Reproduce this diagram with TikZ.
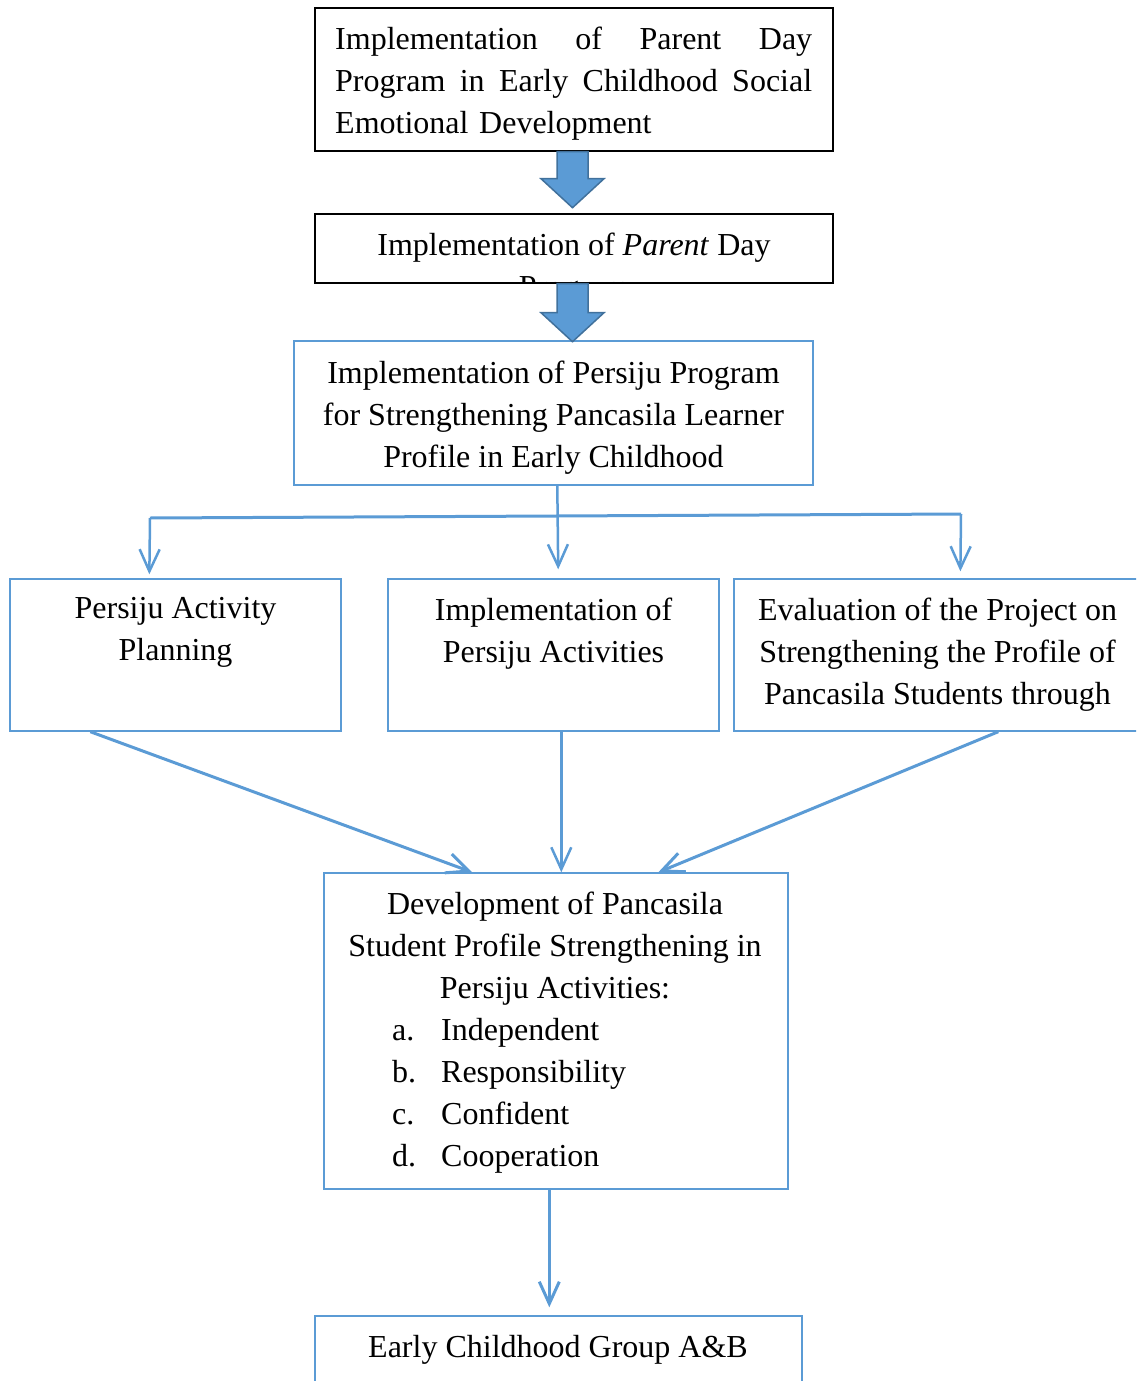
\documentclass[tikz,border=0pt]{standalone}
\usepackage{fontspec}
\setmainfont{Liberation Serif}
\usetikzlibrary{arrows.meta,calc}
\definecolor{bl}{HTML}{5B9BD5}
\definecolor{bldark}{HTML}{41719C}
\begin{document}
\begin{tikzpicture}[x=1pt,y=-1pt,
  font=\fontsize{32}{42}\selectfont,
  blackbox/.style={draw=black, line width=1.4pt, rectangle, inner sep=0pt},
  bluebox/.style={draw=bl, line width=1.4pt, rectangle, inner sep=0pt},
  txt/.style={inner sep=0pt, align=center},
  conn/.style={draw=bl, line width=3pt, -{Straight Barb[length=22pt,width=20pt]}},
  blockarrow/.style={fill=bl, draw=bldark, line width=1.5pt, line join=miter}
]
\useasboundingbox (0,0) rectangle (1136,1381);
\clip (0,0) rectangle (1136,1381);

% boxes
\node[blackbox, minimum width=518pt, minimum height=143pt] (b1) at (574,79.5) {};
\node[bluebox, minimum width=519pt, minimum height=144pt] (b3) at (553.5,413) {};
\node[bluebox, minimum width=331pt, minimum height=152pt] (b4) at (175.5,655) {};
\node[bluebox, minimum width=331pt, minimum height=152pt] (b5) at (553.5,655) {};
\node[bluebox, minimum width=416pt, minimum height=152pt] (b6) at (942,655) {};
\node[bluebox, minimum width=464pt, minimum height=316pt] (b7) at (556,1031) {};
\node[bluebox, minimum width=487pt, minimum height=84pt] (b8) at (558.5,1358) {};

% box 2 with clipped second line
\begin{scope}
  \clip (315,214) rectangle (833,283);
  \node[txt, anchor=north] (t2) at (574,232.5) {Implementation of \textit{Parent} Day\\Program};
\end{scope}
\node[blackbox, minimum width=518pt, minimum height=69pt] (b2) at (574,248.5) {};

% texts
\node[txt, anchor=north west, text width=477pt, align=left] (t1) at (335,26.5)
  {\makebox[477pt][l]{Implementation\hfill of\hfill Parent\hfill Day}\\
   \makebox[477pt][l]{Program\hfill in\hfill Early\hfill Childhood\hfill Social}\\
   Emotional Development};
\node[txt, anchor=north] (t3) at (553.5,360.5)
  {Implementation of Persiju Program\\for Strengthening Pancasila Learner\\Profile in Early Childhood};
\node[txt, anchor=north] (t4) at (175.5,597.5) {Persiju Activity\\Planning};
\node[txt, anchor=north] (t5) at (553.5,597.5) {Implementation of\\Persiju Activities};
\node[txt, anchor=north] (t6) at (937.5,597.5)
  {Evaluation of the Project on\\Strengthening the Profile of\\Pancasila Students through};
\node[txt, anchor=north] (t7) at (555,891.5)
  {Development of Pancasila\\Student Profile Strengthening in\\Persiju Activities:};
\node[txt, anchor=north west, align=left] (t7l) at (392,1018.5)
  {\makebox[49pt][l]{a.}Independent\\
   \makebox[49pt][l]{b.}Responsibility\\
   \makebox[49pt][l]{c.}Confident\\
   \makebox[49pt][l]{d.}Cooperation};
\node[txt, anchor=north] (t8) at (558,1335.5) {Early Childhood Group A\&B};

% block arrows
\draw[blockarrow, shift={(b1.south)}]
  (-17,0) -- (-17,27) -- (-33,27) -- (-1.5,56) -- (30,27) -- (14,27) -- (14,0) -- cycle;
\draw[blockarrow, shift={(b2.south)}]
  (-17,0) -- (-17,29) -- (-33,29) -- (-1.5,58) -- (30,29) -- (14,29) -- (14,0) -- cycle;

% branching connectors
\coordinate (jL) at (150,518);
\coordinate (jR) at (961,514);
\draw[draw=bl, line width=3pt] (jL) -- (jR);
\draw[conn, line width=2.5pt, shorten >=9pt] ($(b3.south west)+(264,0)$) -- ($(b5.north west)+(171,0)$);
\draw[conn, line width=2.5pt, shorten >=4pt] (jL) -- ($(b4.north west)+(140,0)$);
\draw[conn, line width=2.5pt, shorten >=7pt] (jR) -- ($(b6.north west)+(227,0)$);

% converging connectors
\draw[conn] ($(b4.south west)+(81,0)$) -- ($(b7.north west)+(149,0)$);
\draw[conn, line width=2.5pt] ($(b5.south west)+(174,0)$) -- ($(b7.north west)+(238,0)$);
\draw[conn] ($(b6.south west)+(265,0)$) -- ($(b7.north west)+(335,0)$);

% to final box
\draw[conn, shorten >=8pt] ($(b7.south west)+(226,0)$) -- ($(b8.north west)+(235,0)$);
\end{tikzpicture}
\end{document}
